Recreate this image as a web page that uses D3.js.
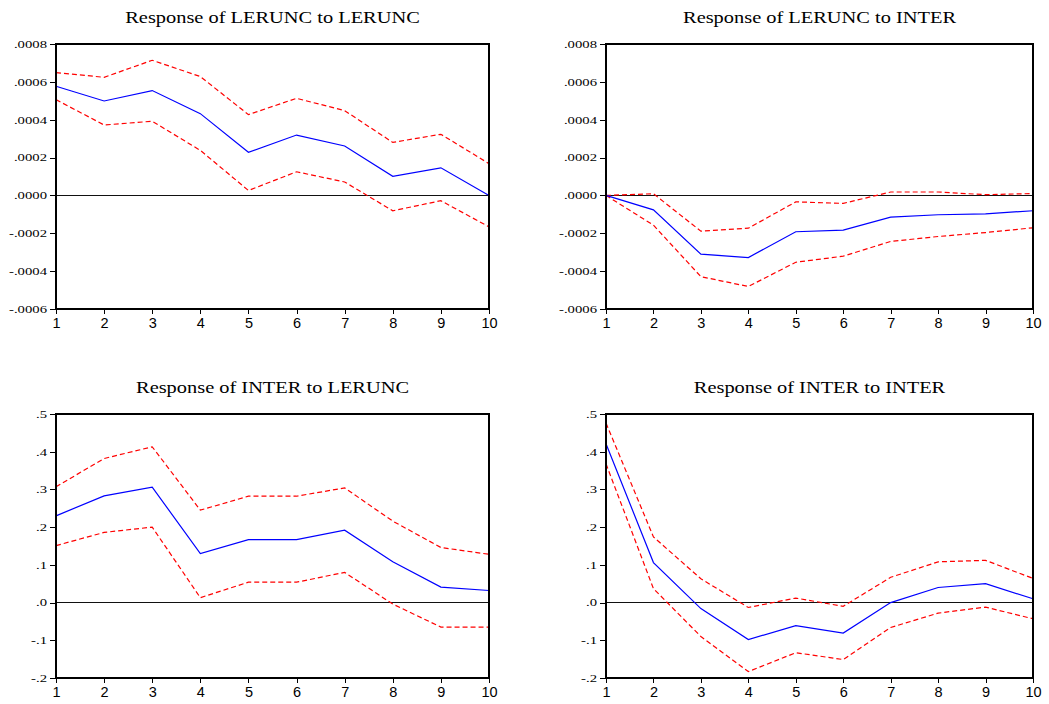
<!DOCTYPE html>
<meta charset="utf-8">
<style>
    body {
        margin: 0;
        background: #fff;
    }

    .title {
        font-family: "Liberation Serif", "Times New Roman", serif;
        font-size: 17px;
        fill: #000;
    }

    .y.axis text {
        font-family: "Liberation Serif", "Times New Roman", serif;
        font-size: 10.5px;
        fill: #000;
    }

    .x.axis text {
        font-family: "Liberation Sans", Arial, sans-serif;
        font-size: 14.5px;
        fill: #000;
    }

    .axis line {
        stroke: #000;
        shape-rendering: crispEdges;
    }
</style>

<body>
    <script src="https://d3js.org/d3.v7.min.js"></script>
    <script>

        // forecast horizon
        var periods = [1, 2, 3, 4, 5, 6, 7, 8, 9, 10];

        // Response of LERUNC to LERUNC
        var lerLerMid = [0.000577, 0.000499, 0.000554, 0.000432, 0.000228, 0.000319, 0.000261, 0.000101, 0.000146, 0.0];
        var lerLerUp = [0.000649, 0.000624, 0.000714, 0.000628, 0.000427, 0.000513, 0.000448, 0.000280, 0.000323, 0.000168];
        var lerLerLo = [0.000506, 0.000372, 0.000392, 0.000238, 0.000026, 0.000125, 0.000071, -0.000081, -0.000028, -0.000166];

        // Response of LERUNC to INTER
        var lerIntMid = [0.0, -0.000076, -0.000310, -0.000328, -0.000192, -0.000183, -0.000115, -0.000102, -0.000097, -0.000081];
        var lerIntUp = [0.0, 0.000009, -0.000189, -0.000173, -0.000034, -0.000042, 0.000018, 0.000018, 0.000004, 0.000010];
        var lerIntLo = [0.0, -0.000157, -0.000429, -0.000481, -0.000353, -0.000321, -0.000243, -0.000217, -0.000196, -0.000171];

        // Response of INTER to LERUNC
        var intLerMid = [0.230, 0.283, 0.306, 0.130, 0.167, 0.167, 0.192, 0.108, 0.041, 0.032];
        var intLerUp = [0.307, 0.382, 0.413, 0.245, 0.282, 0.282, 0.304, 0.216, 0.146, 0.128];
        var intLerLo = [0.151, 0.186, 0.200, 0.013, 0.054, 0.054, 0.080, -0.004, -0.065, -0.065];

        // Response of INTER to INTER
        var intIntMid = [0.421, 0.106, -0.016, -0.098, -0.061, -0.081, 0.0, 0.040, 0.050, 0.010];
        var intIntUp = [0.476, 0.174, 0.063, -0.013, 0.012, -0.010, 0.067, 0.108, 0.112, 0.064];
        var intIntLo = [0.368, 0.037, -0.090, -0.183, -0.133, -0.151, -0.066, -0.028, -0.012, -0.043];

        // y tick values and labels
        var lerTicks = [-0.0006, -0.0004, -0.0002, 0, 0.0002, 0.0004, 0.0006, 0.0008];
        var lerLabels = ["-.0006", "-.0004", "-.0002", ".0000", ".0002", ".0004", ".0006", ".0008"];
        var intTicks = [-0.2, -0.1, 0, 0.1, 0.2, 0.3, 0.4, 0.5];
        var intLabels = ["-.2", "-.1", ".0", ".1", ".2", ".3", ".4", ".5"];

        var panels = [
            { title: "Response of LERUNC to LERUNC", mid: lerLerMid, up: lerLerUp, lo: lerLerLo, ticks: lerTicks, labels: lerLabels, left: 56, top: 44, w: 433, h: 265 },
            { title: "Response of LERUNC to INTER", mid: lerIntMid, up: lerIntUp, lo: lerIntLo, ticks: lerTicks, labels: lerLabels, left: 606, top: 44, w: 427, h: 265 },
            { title: "Response of INTER to LERUNC", mid: intLerMid, up: intLerUp, lo: intLerLo, ticks: intTicks, labels: intLabels, left: 56, top: 414, w: 433, h: 264 },
            { title: "Response of INTER to INTER", mid: intIntMid, up: intIntUp, lo: intIntLo, ticks: intTicks, labels: intLabels, left: 606, top: 414, w: 427, h: 264 }
        ];

        var svg = d3.select("body").append("svg")
            .attr("width", 1049)
            .attr("height", 704);

        panels.forEach(function (p) {
            var g = svg.append("g")
                .attr("transform", "translate(" + p.left + "," + p.top + ")");

            var x = d3.scaleLinear().domain([1, 10]).range([0, p.w]);
            var y = d3.scaleLinear()
                .domain([p.ticks[0], p.ticks[p.ticks.length - 1]])
                .range([p.h, 0]);

            var xAxis = d3.axisBottom(x)
                .tickValues(periods)
                .tickFormat(d3.format("d"))
                .tickSizeInner(5).tickSizeOuter(0).tickPadding(4);

            var yAxis = d3.axisLeft(y)
                .tickValues(p.ticks)
                .tickFormat(function (d, i) { return p.labels[i]; })
                .tickSizeInner(6).tickSizeOuter(0);

            g.append("g")
                .attr("class", "x axis")
                .attr("transform", "translate(0," + p.h + ")")
                .call(xAxis)
                .call(s => s.select(".domain").remove())
                .selectAll("text")
                .attr("transform", function () {
                    return "translate(" + d3.select(this).attr("x") + ",0) scale(1.1,1)";
                })
                .attr("x", 0);

            g.append("g")
                .attr("class", "y axis")
                .call(yAxis)
                .call(s => s.select(".domain").remove())
                .selectAll("text")
                .attr("x", 0)
                .attr("transform", "translate(-9,0) scale(1.4,1)");

            // zero line
            g.append("line")
                .attr("x1", 0).attr("x2", p.w)
                .attr("y1", y(0)).attr("y2", y(0))
                .attr("stroke", "#111")
                .attr("stroke-width", 1)
                .style("shape-rendering", "crispEdges");

            var line = d3.line()
                .x(function (d, i) { return x(periods[i]); })
                .y(function (d) { return y(d); });

            [p.up, p.lo].forEach(function (band) {
                g.append("path")
                    .attr("d", line(band))
                    .attr("fill", "none")
                    .attr("stroke", "#ff0000")
                    .attr("stroke-width", 1.2)
                    .attr("stroke-dasharray", "5,3");
            });

            g.append("path")
                .attr("d", line(p.mid))
                .attr("fill", "none")
                .attr("stroke", "#0000ff")
                .attr("stroke-width", 1.2);

            // frame
            g.append("rect")
                .attr("width", p.w)
                .attr("height", p.h)
                .attr("fill", "none")
                .attr("stroke", "#000")
                .attr("stroke-width", 2);

            g.append("text")
                .attr("class", "title")
                .attr("text-anchor", "middle")
                .attr("transform", "translate(" + (p.w / 2) + "," + (-21) + ") scale(1.2,1)")
                .text(p.title);
        });

    </script>
</body>
